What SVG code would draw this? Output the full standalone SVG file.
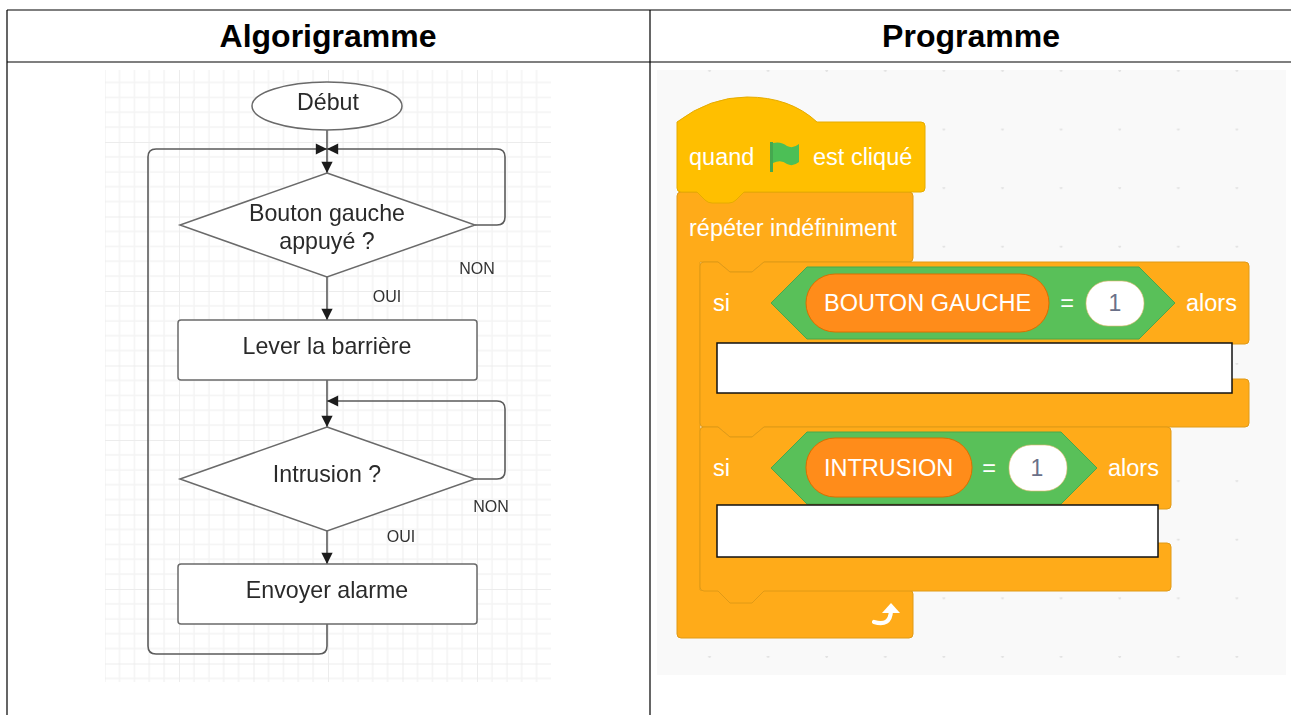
<svg xmlns="http://www.w3.org/2000/svg" width="1291" height="715" viewBox="0 0 1291 715">
<style>
text{font-family:"Liberation Sans",Arial,sans-serif}
.h{font-size:32px;font-weight:bold;fill:#000;text-anchor:middle}
.t{font-size:23.2px;fill:#2a2a2a;text-anchor:middle}
.s{font-size:16px;fill:#333;text-anchor:middle}
.n{fill:#fff;stroke:#6a6a6a;stroke-width:1.5}
.c{fill:none;stroke:#5c5c5c;stroke-width:1.6}
.w{font-size:23.5px;fill:#fff}
.o{fill:#ffab19;stroke:#e09a17;stroke-width:1}
.g{fill:#59c059;stroke:#4aa84a;stroke-width:1}
.p{fill:#ff8c1a;stroke:#db6e00;stroke-width:1}
.v{fill:#fff;stroke:#e8b870;stroke-width:.6}
.b{fill:#fff;stroke:#111;stroke-width:1.5}
.d{font-size:23px;fill:#6a7088;text-anchor:middle}
.soft{filter:url(#blur)}
</style>
<defs>
<filter id="blur" x="-5%" y="-5%" width="110%" height="110%"><feGaussianBlur stdDeviation="0.45"/></filter>
<pattern id="grid" x="104.5" y="67.5" width="74.5" height="74.5" patternUnits="userSpaceOnUse">
<path d="M15 0V74.5M30 0V74.5M44.7 0V74.5M59.6 0V74.5M0 15H74.5M0 30H74.5M0 44.7H74.5M0 59.6H74.5" stroke="#f4f4f4" stroke-width="1.5" fill="none"/>
<path d="M0 0V74.5M0 0H74.5" stroke="#ececec" stroke-width="2" fill="none"/>
</pattern>
<pattern id="dots" x="680" y="70" width="58.6" height="58.6" patternUnits="userSpaceOnUse">
<circle cx="29.5" cy="0.5" r="1.4" fill="#e2e2e2"/>
</pattern>
<marker id="a" viewBox="0 0 10 10" refX="10" refY="5" markerWidth="7.5" markerHeight="7" markerUnits="strokeWidth" orient="auto"><path d="M0 0L10 5L0 10Z" fill="#1c1c1c"/></marker>
</defs>
<rect width="1291" height="715" fill="#fff"/>
<rect x="105" y="70" width="446" height="612" fill="url(#grid)"/>
<rect x="657" y="70" width="629" height="605" fill="#f9f9f9"/>
<rect x="657" y="70" width="629" height="605" fill="url(#dots)"/>
<g id="table" fill="none" stroke="#000" stroke-width="1.2">
<path d="M7 10H1291M7 10V715M650 10V715M7 62H1291"/>
</g>
<text class="h" x="328" y="47">Algorigramme</text>
<text class="h" x="971" y="47">Programme</text>

<g id="connectors" class="soft">
<path class="c" marker-end="url(#a)" d="M327 130V173"/>
<path class="c" marker-end="url(#a)" d="M327 624V646Q327 654 319 654H156Q148 654 148 646V157Q148 149 156 149H327"/>
<path class="c" marker-end="url(#a)" d="M475 225H497Q505 225 505 217V157Q505 149 497 149H327"/>
<path class="c" marker-end="url(#a)" d="M327 277V320"/>
<path class="c" marker-end="url(#a)" d="M327 380V427"/>
<path class="c" marker-end="url(#a)" d="M475 479H497Q505 479 505 471V409Q505 401 497 401H327"/>
<path class="c" marker-end="url(#a)" d="M327 531V564"/>
</g>
<g id="debut" class="soft"><ellipse class="n" cx="327" cy="106" rx="75" ry="24"/><text class="t" x="328" y="110">Début</text></g>
<g id="bouton" class="soft"><path class="n" d="M327 173L475 225L327 277L180 225Z"/><text class="t" x="327" y="221">Bouton gauche</text><text class="t" x="327" y="249">appuyé ?</text></g>
<g id="lever" class="soft"><rect class="n" x="178" y="320" width="299" height="60" rx="3"/><text class="t" x="327" y="354">Lever la barrière</text></g>
<g id="intrusion" class="soft"><path class="n" d="M327 427L475 479L327 531L180 479Z"/><text class="t" x="327" y="482">Intrusion ?</text></g>
<g id="alarme" class="soft"><rect class="n" x="178" y="564" width="299" height="60" rx="3"/><text class="t" x="327" y="598">Envoyer alarme</text></g>
<g class="soft">
<text class="s" x="477" y="274">NON</text>
<text class="s" x="387" y="302">OUI</text>
<text class="s" x="491" y="512">NON</text>
<text class="s" x="401" y="542">OUI</text>
</g>

<g id="repeter">
<path class="o" d="M681 192H909Q913 192 913 196V258Q913 262 909 262H764L752 272H730L718 262H700V590H909Q913 590 913 594V634Q913 638 909 638H681Q677 638 677 634V196Q677 192 681 192Z"/>
<text class="w" x="689" y="236">répéter indéfiniment</text>
<path d="M874 622Q890 627 891 611" fill="none" stroke="#fff" stroke-width="4.2" stroke-linecap="round"/>
<path d="M891 603L900 613L882 613Z" fill="#fff"/>
</g>
<g id="quand">
<path d="M677 122Q710 97 747 97Q790 97 817 122H921Q925 122 925 126V188Q925 192 921 192H744L736 200Q733 203 729 203H712Q708 203 705 200L697 192H681Q677 192 677 188Z" fill="#ffbf00" stroke="#e6ac00" stroke-width="1"/>
<text class="w" x="689" y="165">quand</text>
<path d="M770 142H773V172H770Z" fill="#45a84f"/>
<path d="M773 143Q781 141 787 146Q793 149 799 144V162Q793 167 787 164Q781 159 773 163Z" fill="#4cbf56"/>
<text class="w" x="813" y="165">est cliqué</text>
</g>
<g id="si1">
<path class="o" d="M704 262H718L730 272H752L764 262H1245Q1249 262 1249 266V340Q1249 344 1245 344H717V379H1245Q1249 379 1249 383V423Q1249 427 1245 427H764L752 437H730L718 427H704Q700 427 700 423V266Q700 262 704 262Z"/>
<text class="w" x="713" y="311">si</text>
<path class="g" d="M771 303L807 267H1139L1175 303L1139 339H807Z"/>
<rect class="p" x="806" y="274" width="243" height="58" rx="29"/>
<text class="w" x="824" y="311">BOUTON GAUCHE</text>
<text class="w" x="1067" y="311" text-anchor="middle">=</text>
<rect class="v" x="1086" y="281" width="58" height="45" rx="22"/>
<text class="d" x="1115" y="311">1</text>
<text class="w" x="1186" y="311">alors</text>
<rect class="b" x="717" y="343" width="515" height="50"/>
</g>
<g id="si2">
<path class="o" d="M704 427H718L730 437H752L764 427H1167Q1171 427 1171 431V505Q1171 509 1167 509H717V543H1167Q1171 543 1171 547V587Q1171 591 1167 591H764L752 603H730L718 591H704Q700 591 700 587V431Q700 427 704 427Z"/>
<text class="w" x="713" y="476">si</text>
<path class="g" d="M771 468L807 432H1061L1097 468L1061 504H807Z"/>
<rect class="p" x="806" y="438" width="166" height="59" rx="29"/>
<text class="w" x="824" y="476">INTRUSION</text>
<text class="w" x="989" y="476" text-anchor="middle">=</text>
<rect class="v" x="1009" y="445" width="58" height="46" rx="22"/>
<text class="d" x="1037" y="476">1</text>
<text class="w" x="1108" y="476">alors</text>
<rect class="b" x="717" y="505" width="441" height="52"/>
</g>
</svg>
